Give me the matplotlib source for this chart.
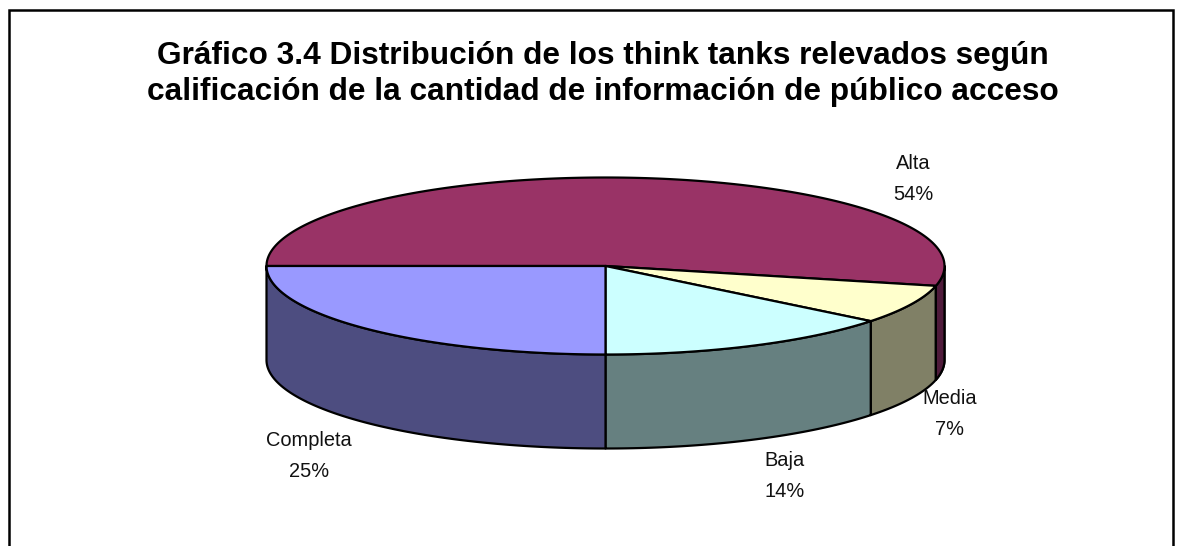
import numpy as np
from matplotlib import pyplot as plt
from matplotlib.patches import Polygon, Rectangle

categories = ['Alta', 'Media', 'Baja', 'Completa']
shares = [53.6, 7.1, 14.3, 25.0]
share_labels = ['54%', '7%', '14%', '25%']
top_colors = ['#993366', '#FFFFCC', '#CCFFFF', '#9999FF']
side_colors = ['#4F1B3B', '#808066', '#668080', '#4D4D80']
title = 'Gráfico 3.4 Distribución de los think tanks relevados según\ncalificación de la cantidad de información de público acceso'

CX, CY = 605.5, 266
RX, RY = 339, 88.5
DEPTH = 94
START = 180  # Alta ends at the left edge of the pie


def ellipse_points(t1, t2, dy=0):
    t = np.radians(np.linspace(t1, t2, 200))
    return np.column_stack([CX + RX * np.cos(t), CY + dy - RY * np.sin(t)])


def slice_angles():
    # angles go counter clockwise on screen, Completa starts at the left edge
    angles = []
    end = START + 360
    for s in shares:
        angles.append((end - s * 3.6, end))
        end -= s * 3.6
    return angles


def draw_side(ax, t1, t2, color):
    # only the front half of the rim is visible
    t1, t2 = max(t1, 180), min(t2, 360)
    if t2 <= t1:
        return
    pts = np.vstack([ellipse_points(t1, t2), ellipse_points(t1, t2, DEPTH)[::-1]])
    ax.add_patch(Polygon(pts, closed=True, facecolor=color, edgecolor='black', linewidth=1.6, joinstyle='round'))


def draw_top(ax, t1, t2, color):
    pts = np.vstack([[[CX, CY]], ellipse_points(t1, t2)])
    ax.add_patch(Polygon(pts, closed=True, facecolor=color, edgecolor='black', linewidth=1.6, joinstyle='round'))


def main():
    plt.rcParams['font.family'] = ['Liberation Sans', 'DejaVu Sans']
    fig = plt.figure(figsize=(11.82, 5.46), dpi=100)
    ax = fig.add_axes([0, 0, 1, 1])
    ax.set_xlim(0, 1182)
    ax.set_ylim(546, 0)
    ax.axis('off')

    ax.add_patch(Rectangle((9, 10), 1164, 600, facecolor='white', edgecolor='black', linewidth=1.8))

    angles = slice_angles()
    for (t1, t2), c in zip(angles, side_colors):
        draw_side(ax, t1 % 360 if t1 >= 360 else t1, t2 % 360 if t1 >= 360 else t2, c)
    # Alta runs through 360 degrees, so its piece of rim is drawn on its own
    t1, t2 = angles[0]
    draw_side(ax, t1, 360, side_colors[0])
    for (t1, t2), c in zip(angles, top_colors):
        draw_top(ax, t1, t2, c)

    ax.text(603, 74, title, ha='center', va='center', fontsize=22.8, fontweight='bold', color='black', linespacing=1.27)

    label_pos = [(913, 179), (950, 414), (785, 476), (309, 456)]
    for name, s, (x, y) in zip(categories, share_labels, label_pos):
        ax.text(x, y, f'{name}\n{s}', ha='center', va='center', fontsize=14.4, color='#111111', linespacing=1.75)

    fig.savefig('out.png', dpi=100)


if __name__ == "__main__":
    main()
